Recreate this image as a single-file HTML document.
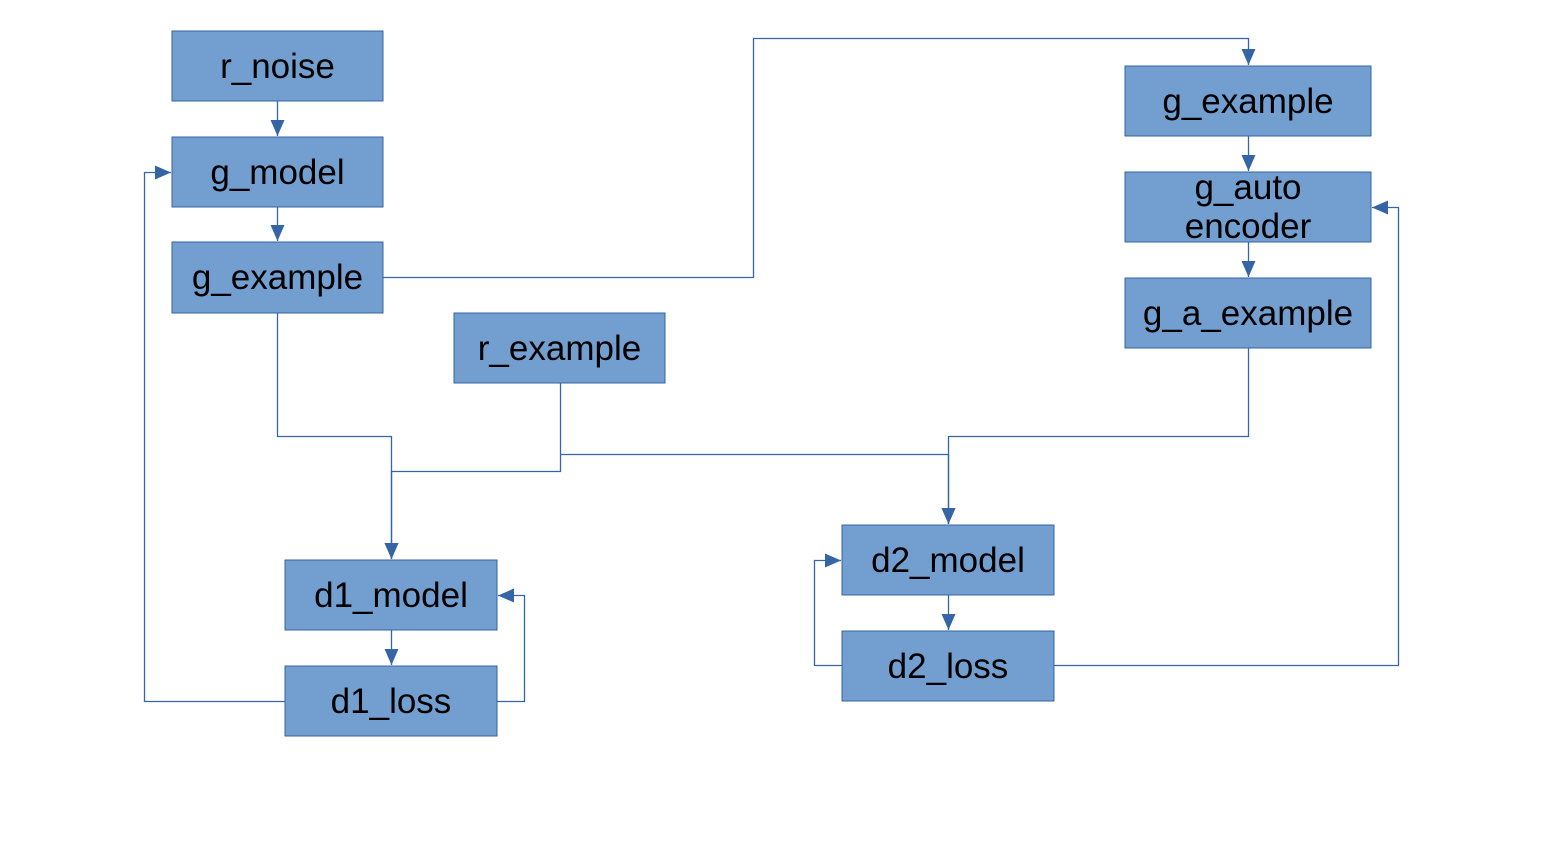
<!DOCTYPE html>
<html><head><style>body{margin:0;background:#fff}svg{display:block}</style></head><body>
<svg width="1545" height="866" xmlns="http://www.w3.org/2000/svg" font-family="Liberation Sans, sans-serif" font-size="35">
<defs><marker id="a" markerWidth="16" markerHeight="16" refX="16" refY="8" orient="auto" markerUnits="userSpaceOnUse"><path d="M0,1 L16,8 L0,15 z" fill="#3465a4"/></marker></defs>
<g fill="#729fcf" stroke="#3465a4" stroke-width="1">
<rect x="172" y="31" width="211" height="70"/>
<rect x="172" y="137" width="211" height="70"/>
<rect x="172" y="242" width="211" height="71"/>
<rect x="454" y="313" width="211" height="70"/>
<rect x="285" y="560" width="212" height="70"/>
<rect x="285" y="666" width="212" height="70"/>
<rect x="842" y="525" width="212" height="70"/>
<rect x="842" y="631" width="212" height="70"/>
<rect x="1125" y="66" width="246" height="70"/>
<rect x="1125" y="172" width="246" height="70"/>
<rect x="1125" y="278" width="246" height="70"/>
</g>
<g fill="none" stroke="#3465a4" stroke-width="1.3" marker-end="url(#a)">
<path d="M277.5,101 V136"/>
<path d="M277.5,207 V241"/>
<path d="M391.5,630 V665"/>
<path d="M948.5,595 V630"/>
<path d="M1248.5,136 V171"/>
<path d="M1248.5,242 V277"/>
<path d="M277.5,313 V436.5 H391.5 V559"/>
<path d="M560.5,383 V471.5 H391.5 V559"/>
<path d="M560.5,454.5 H948.5 V524"/>
<path d="M1248.5,348 V436.5 H948.5 V524"/>
<path d="M383,277.5 H753.5 V38.5 H1248.5 V65"/>
<path d="M285,701.5 H144.5 V172.5 H171"/>
<path d="M497,701.5 H524.5 V595.5 H498"/>
<path d="M842,665.5 H814.5 V560.5 H841"/>
<path d="M1054,665.5 H1398.5 V207.5 H1372"/>
</g>
<g fill="#000" text-anchor="middle">
<text x="277.5" y="78">r_noise</text>
<text x="277.5" y="184">g_model</text>
<text x="277.5" y="289">g_example</text>
<text x="559.5" y="360">r_example</text>
<text x="391" y="607">d1_model</text>
<text x="391" y="713">d1_loss</text>
<text x="948" y="572">d2_model</text>
<text x="948" y="678">d2_loss</text>
<text x="1248" y="113">g_example</text>
<text x="1248" y="199">g_auto</text>
<text x="1248" y="238">encoder</text>
<text x="1248" y="325">g_a_example</text>
</g>
</svg>
</body></html>
